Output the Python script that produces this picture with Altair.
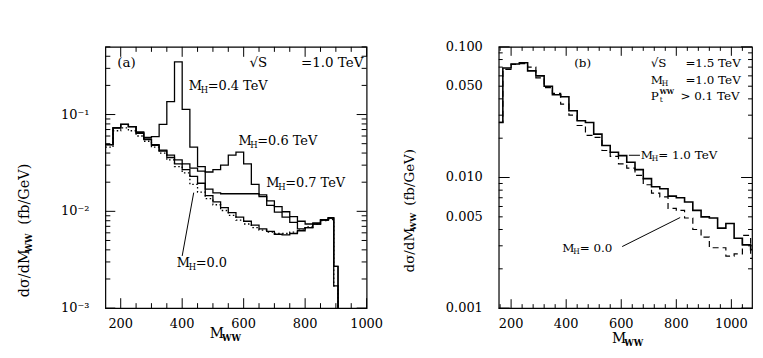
import math
import altair as alt
import pandas as pd

FONT = "DejaVu Serif"

# ---------------- panel (a): sqrt(S) = 1.0 TeV ----------------
a_edges = [150, 175, 200, 225, 250, 275, 300, 325, 350, 375, 400, 425, 450, 475, 500,
           525, 550, 575, 600, 625, 650, 675, 700, 725, 750, 775, 800, 825, 850, 875,
           893, 907]
a_mh00 = [0.046, 0.068, 0.073, 0.068, 0.060, 0.053, 0.046, 0.040, 0.034, 0.029,
          0.025, 0.019, 0.0158, 0.0135, 0.0117, 0.0102, 0.0091, 0.0081, 0.0074, 0.0068,
          0.0064, 0.0061, 0.0059, 0.0059, 0.0061, 0.0064, 0.0069, 0.0074, 0.0080, 0.0082,
          0.0017]
a_mh04 = [0.049, 0.073, 0.079, 0.075, 0.066, 0.058, 0.059, 0.079, 0.136, 0.35,
          0.113, 0.046, 0.029, 0.0145, 0.0125, 0.0109, 0.0097, 0.0087, 0.0079, 0.0072,
          0.0066, 0.0062, 0.0058, 0.0057, 0.0059, 0.0063, 0.0068, 0.0074, 0.0081, 0.0085,
          0.0027]
a_mh06 = [0.049, 0.073, 0.079, 0.075, 0.065, 0.056, 0.049, 0.043, 0.038, 0.034,
          0.031, 0.028, 0.026, 0.0255, 0.027, 0.030, 0.038, 0.041, 0.031, 0.019,
          0.0142, 0.0115, 0.0098, 0.0087, 0.0077, 0.0066, 0.0068, 0.0074, 0.0081, 0.0085,
          0.0017]
a_mh07 = [0.049, 0.073, 0.079, 0.075, 0.064, 0.055, 0.048, 0.042, 0.036, 0.031,
          0.027, 0.023, 0.0195, 0.017, 0.0155, 0.0152, 0.0152, 0.0152, 0.0152, 0.0152,
          0.0148, 0.0128, 0.0112, 0.0099, 0.0088, 0.0079, 0.0074, 0.0076, 0.0082, 0.0086,
          0.0027]
a_x_ticks = [200, 400, 600, 800, 1000]
a_x_text = ["200", "400", "600", "800", "1000"]
a_y_ticks = [0.001, 0.01, 0.1]
a_y_text = ["10⁻³", "10⁻²", "10⁻¹"]

# labels of panel (a), anchored in data coordinates
a_mh_m = [421.5, 583.0, 673.6, 382.7]
a_mh_v = [0.195, 0.0531, 0.0197, 0.0029]
a_mh_rest = ["=0.4 TeV", "=0.6 TeV", "=0.7 TeV", "=0.0"]
a_info_text = ["(a)", "√S", "=1.0 TeV"]
a_info_m = [188.8, 618.7, 786.7]
a_info_v = [0.344, 0.344, 0.344]
a_ptr = dict(m1=[400.0], v1=[0.00346], m2=[437.5], v2=[0.0156])

# ---------------- panel (b): sqrt(S) = 1.5 TeV ----------------
b_edges = [155, 170] + list(range(200, 1071, 30)) + [1075]
b_mh10 = [0.0264, 0.069, 0.074, 0.0755, 0.0655, 0.060, 0.050, 0.043, 0.0415, 0.0324,
          0.0272, 0.0264, 0.0215, 0.0176, 0.0156, 0.0147, 0.0131, 0.0115, 0.0098, 0.0085,
          0.0082, 0.0072, 0.0070, 0.0065, 0.0056, 0.0050, 0.0049, 0.0041, 0.00445, 0.00343,
          0.00305, 0.0028]
b_mh00 = [0.0264, 0.0672, 0.0735, 0.0745, 0.070, 0.058, 0.0488, 0.044, 0.0364, 0.030,
          0.025, 0.021, 0.0203, 0.0161, 0.0145, 0.0127, 0.0118, 0.0104, 0.0088, 0.0076,
          0.0071, 0.0058, 0.0056, 0.0049, 0.0040, 0.0035, 0.0029, 0.0029, 0.0025, 0.0026,
          0.0036, 0.0024]
b_x_ticks = [200, 400, 600, 800, 1000]
b_x_text = ["200", "400", "600", "800", "1000"]
b_y_ticks = [0.001, 0.005, 0.01, 0.05, 0.1]
b_y_text = ["0.001", "0.005", "0.010", "0.050", "0.100"]

b_info_text = ["(b)", "√S", "=1.5 TeV", "=1.0 TeV", "> 0.1 TeV"]
b_info_m = [429.0, 707.0, 833.0, 833.0, 815.0]
b_info_v = [0.0755, 0.0755, 0.0755, 0.0561, 0.0417]
b_mh_m = [707.0, 671.0, 386.0]
b_mh_v = [0.0561, 0.01483, 0.00286]
b_mh_rest = ["", "= 1.0 TeV", "= 0.0"]
b_pt_m = [707.0]
b_pt_v = [0.0417]
b_ptr = dict(m1=[603.4, 627.6], v1=[0.00296, 0.0148], m2=[814.0, 668.0], v2=[0.00494, 0.0148])

WA, HA = 263, 263
WB, HB = 255, 263


def hist_df(edges, series, drop=None):
    rows = []
    for name, vals in series.items():
        n = len(vals)
        for i in range(n):
            rows.append(dict(m=edges[i], v=vals[i], curve=name, i=i))
        rows.append(dict(m=edges[n], v=vals[-1], curve=name, i=n))
        if drop is not None:
            rows.append(dict(m=edges[n], v=drop, curve=name, i=n + 1))
    return pd.DataFrame(rows)


def tick_paths(xdom, ydom, W, H, xM, xm, yM, ym, xMs, xms, yMs, yms):
    """Inward ticks on all four sides as two-point paths, in data units."""
    x0, x1 = xdom
    y0, y1 = ydom
    ux = (x1 - x0) / W
    dl = math.log10(y1 / y0) / H
    segs = []
    for vals, L in ((xM, xMs), (xm, xms)):
        for t in vals:
            segs.append(((t, y0), (t, y0 * 10 ** (L * dl))))
            segs.append(((t, y1), (t, y1 / 10 ** (L * dl))))
    for vals, L in ((yM, yMs), (ym, yms)):
        for t in vals:
            segs.append(((x0, t), (x0 + L * ux, t)))
            segs.append(((x1, t), (x1 - L * ux, t)))
    rows = []
    for sid, (p, q) in enumerate(segs):
        rows.append(dict(sid=sid, k=0, m=p[0], v=p[1]))
        rows.append(dict(sid=sid, k=1, m=q[0], v=q[1]))
    return pd.DataFrame(rows)


def tick_layer(df, XS, YS):
    return alt.Chart(df).mark_line(color="black", strokeWidth=1).encode(
        x=alt.X("m:Q", scale=XS, axis=None), y=alt.Y("v:Q", scale=YS, axis=None),
        detail="sid:N", order=alt.Order("k:Q"))


one = pd.DataFrame({"k": [0]})


def title_piece(text, x, y, angle=0, dx=0, dy=0, size=15, weight="normal", align="left"):
    return alt.Chart(one).mark_text(
        text=text, angle=angle, dx=dx, dy=dy, align=align, baseline="middle",
        font=FONT, fontSize=size, fontWeight=weight, color="black"
    ).encode(x=alt.value(x), y=alt.value(y))


def tick_label_pieces(xdom, ydom, W, H, xt, xs, yt, ys, xgap, ygap, size=13):
    """Tick labels placed with the same linear / log mapping as the scales."""
    x0, x1 = xdom
    y0, y1 = ydom
    out = []
    for t, s in zip(xt, xs):
        px = (t - x0) / (x1 - x0) * W
        out.append(title_piece(s, px, H + xgap, size=size, align="center"))
    for t, s in zip(yt, ys):
        py = H * (1 - math.log10(t / y0) / math.log10(y1 / y0))
        out.append(title_piece(s, -ygap, py, size=size, align="right"))
    return out


def text_layer(df, XS, YS, text_field=None, text=None, dx=0, dy=0, size=13, weight="normal"):
    kw = dict(dx=dx, dy=dy, align="left", baseline="middle", font=FONT,
              fontSize=size, fontWeight=weight, color="black")
    if text is not None:
        kw["text"] = text
    enc = dict(x=alt.X("m:Q", scale=XS, axis=None), y=alt.Y("v:Q", scale=YS, axis=None))
    if text_field is not None:
        enc["text"] = alt.Text(text_field + ":N")
    return alt.Chart(df).mark_text(**kw).encode(**enc)


def pointer_layer(d, XS, YS):
    return alt.Chart(pd.DataFrame(d)).mark_rule(color="black", strokeWidth=1).encode(
        x=alt.X("m1:Q", scale=XS, axis=None), x2="m2:Q",
        y=alt.Y("v1:Q", scale=YS, axis=None), y2="v2:Q")


def line_layers(df, solid_names, styled_names, styled_dash, XS, YS,
                solid_width, styled_width):
    solid = alt.Chart(df[df.curve.isin(solid_names)]).mark_line(
        interpolate="step-after", clip=True, color="black", strokeWidth=solid_width
    ).encode(x=alt.X("m:Q", scale=XS, axis=None), y=alt.Y("v:Q", scale=YS, axis=None),
             detail="curve:N", order=alt.Order("i:Q"))
    styled = alt.Chart(df[df.curve.isin(styled_names)]).mark_line(
        interpolate="step-after", clip=True, color="black", strokeWidth=styled_width,
        strokeDash=styled_dash
    ).encode(x=alt.X("m:Q", scale=XS, axis=None), y=alt.Y("v:Q", scale=YS, axis=None),
             detail="curve:N", order=alt.Order("i:Q"))
    return [solid, styled]


# ---------------- panel (a) ----------------
A_XDOM, A_YDOM = [150, 1000], [0.001, 0.5]
XA = alt.Scale(domain=A_XDOM, nice=False, zero=False)
YA = alt.Scale(type="log", domain=A_YDOM, nice=False)
a_df = hist_df(a_edges, {"mh04": a_mh04, "mh06": a_mh06, "mh07": a_mh07, "mh00": a_mh00},
               drop=1e-5)
a_xm = [v for v in range(250, 1000, 50) if v % 200 != 0]
a_ym = [k * 10.0 ** e for e in (-3, -2, -1) for k in range(2, 10) if k * 10.0 ** e <= 0.5]
a_ticks = tick_paths(A_XDOM, A_YDOM, WA, HA, a_x_ticks, a_xm, a_y_ticks, a_ym, 10, 5, 10, 5)

a_mh_df = pd.DataFrame({"m": a_mh_m, "v": a_mh_v, "rest": a_mh_rest})
a_info_df = pd.DataFrame({"m": a_info_m, "v": a_info_v, "t": a_info_text})

a_layers = line_layers(a_df, ["mh04", "mh06", "mh07"], ["mh00"], [1.5, 2.5],
                       XA, YA, 1.3, 1.3)
a_layers += [tick_layer(a_ticks, XA, YA)]
a_layers += [
    text_layer(a_info_df, XA, YA, text_field="t", size=13.5),
    text_layer(a_mh_df, XA, YA, text="M", size=13),
    text_layer(a_mh_df, XA, YA, text="H", dx=12, dy=4, size=8.5),
    text_layer(a_mh_df, XA, YA, text_field="rest", dx=19, size=13),
    pointer_layer(a_ptr, XA, YA),
    title_piece("dσ/dM", -81, 252, angle=270, size=14.5),
    title_piece("WW", -81, 252, angle=270, dx=45, dy=4, size=8.5, weight="bold"),
    title_piece("(fb/GeV)", -81, 252, angle=270, dx=73, size=14.5),
    title_piece("M", 105, 289, size=14),
    title_piece("WW", 105, 289, dx=12.5, dy=4, size=8.5, weight="bold"),
]
a_layers += tick_label_pieces(A_XDOM, A_YDOM, WA, HA, a_x_ticks, a_x_text,
                              a_y_ticks, a_y_text, 16, 16)
panel_a = alt.layer(*a_layers).properties(width=WA, height=HA)

# ---------------- panel (b) ----------------
B_XDOM, B_YDOM = [155, 1075], [0.001, 0.1]
XB = alt.Scale(domain=B_XDOM, nice=False, zero=False)
YB = alt.Scale(type="log", domain=B_YDOM, nice=False)
b_df = hist_df(b_edges, {"mh10": b_mh10, "mh00": b_mh00})
b_xm = [v for v in range(160, 1076, 40) if v % 200 != 0]
b_yM = [0.001, 0.01, 0.1]
b_ym = [k * 10.0 ** e for e in (-3, -2) for k in range(2, 10)]
b_ticks = tick_paths(B_XDOM, B_YDOM, WB, HB, b_x_ticks, b_xm, b_yM, b_ym, 9, 4, 11, 4)

b_info_df = pd.DataFrame({"m": b_info_m, "v": b_info_v, "t": b_info_text})
b_mh_df = pd.DataFrame({"m": b_mh_m, "v": b_mh_v, "rest": b_mh_rest})
b_pt_df = pd.DataFrame({"m": b_pt_m, "v": b_pt_v})

b_layers = line_layers(b_df, ["mh10"], ["mh00"], [6, 4], XB, YB, 1.6, 1.2)
b_layers += [tick_layer(b_ticks, XB, YB)]
b_layers += [
    text_layer(b_info_df, XB, YB, text_field="t", size=12),
    text_layer(b_mh_df, XB, YB, text="M", size=12),
    text_layer(b_mh_df, XB, YB, text="H", dx=11, dy=4, size=7.5),
    text_layer(b_mh_df, XB, YB, text_field="rest", dx=17.5, size=12),
    text_layer(b_pt_df, XB, YB, text="P", size=12),
    text_layer(b_pt_df, XB, YB, text="t", dx=9, dy=4, size=7.5),
    text_layer(b_pt_df, XB, YB, text="WW", dx=9, dy=-5, size=6.5, weight="bold"),
    pointer_layer(b_ptr, XB, YB),
    title_piece("dσ/dM", -89, 227, angle=270, size=13.5),
    title_piece("WW", -89, 227, angle=270, dx=42, dy=4, size=8, weight="bold"),
    title_piece("(fb/GeV)", -89, 227, angle=270, dx=67, size=13.5),
    title_piece("M", 114, 294, size=14),
    title_piece("WW", 114, 294, dx=12.5, dy=4, size=8.5, weight="bold"),
]
b_layers += tick_label_pieces(B_XDOM, B_YDOM, WB, HB, b_x_ticks, b_x_text,
                              b_y_ticks, b_y_text, 16, 16)
panel_b = alt.layer(*b_layers).properties(width=WB, height=HB)

chart = alt.hconcat(panel_a, panel_b, spacing=133, bounds="flush").properties(
    padding={"left": 8, "top": 31, "right": 0, "bottom": 0},
    background="white",
).configure_view(stroke="black", strokeWidth=1.2)

chart.save("out.html", embed_options={"renderer": "svg", "actions": False})
